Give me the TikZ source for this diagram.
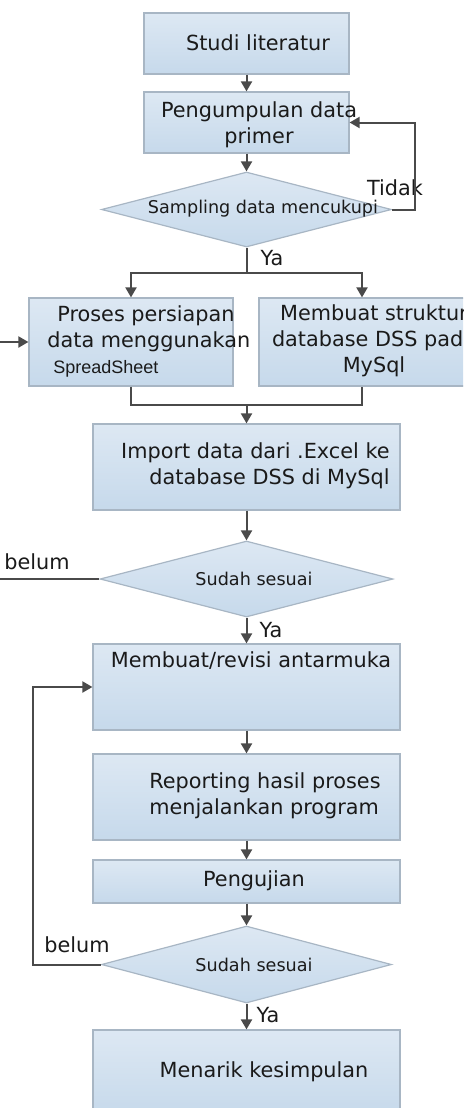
\documentclass[tikz,border=0pt]{standalone}
\usepackage{fontspec}
\setmainfont{DejaVu Sans}
\newfontfamily\sheetfont{Liberation Sans}
\usetikzlibrary{shapes.geometric,arrows.meta}
\definecolor{boxtop}{HTML}{DDE8F3}
\definecolor{boxbot}{HTML}{C6D9EB}
\definecolor{boxline}{HTML}{A8B6C4}
\definecolor{arrowgray}{HTML}{4A4A4A}
\definecolor{textgray}{HTML}{1A1A1A}
\tikzset{
  prosesbox/.style={rectangle, draw=boxline, line width=0.6pt, top color=boxtop, bottom color=boxbot, inner sep=0pt},
  keputusan/.style={diamond, draw=boxline, line width=0.6pt, top color=boxtop, bottom color=boxbot, inner sep=0pt},
  teks/.style={text=textgray, font=\fontsize{10.4}{13}\selectfont, align=center, inner sep=0pt},
  tekskecil/.style={text=textgray, font=\fontsize{8.8}{11}\selectfont, inner sep=0pt},
  panah/.style={-{Triangle[width=5.5pt,length=5pt]}, draw=arrowgray, line width=1pt},
  garis/.style={draw=arrowgray, line width=1pt},
}
\begin{document}
\begin{tikzpicture}[x=0.5pt, y=-0.5pt]
    \useasboundingbox (0,0) rectangle (463,1108);
    \clip (0,0) rectangle (463,1108);

    % Kotak dan keputusan
    \node[prosesbox, minimum width=102.5pt, minimum height=30.5pt] (studi) at (246.5,43.5) {};
    \node[prosesbox, minimum width=102.5pt, minimum height=30.5pt] (kumpul) at (246.5,122.5) {};
    \node[keputusan, minimum width=145pt, minimum height=37.5pt] (cukup) at (246.5,209.5) {};
    \node[prosesbox, minimum width=102pt, minimum height=44pt] (persiapan) at (131,342) {};
    \node[prosesbox, minimum width=103pt, minimum height=44pt] (struktur) at (362,342) {};
    \node[prosesbox, minimum width=153.5pt, minimum height=43pt] (impor) at (246.5,467) {};
    \node[keputusan, minimum width=146.5pt, minimum height=38pt] (sesuaiA) at (246.5,579) {};
    \node[prosesbox, minimum width=153.5pt, minimum height=43pt] (antarmuka) at (246.5,687) {};
    \node[prosesbox, minimum width=153.5pt, minimum height=43pt] (laporan) at (246.5,797) {};
    \node[prosesbox, minimum width=153.5pt, minimum height=21.5pt] (uji) at (246.5,881.5) {};
    \node[keputusan, minimum width=145pt, minimum height=38.5pt] (sesuaiB) at (246.5,964.5) {};
    \node[prosesbox, minimum width=153.5pt, minimum height=43pt] (simpulan) at (246.5,1073) {};

    % Teks di dalam kotak
    \node[teks] (studiT) at (258,43) {Studi literatur};
    \node[teks] (kumpulT) at (259,125) {Pengumpulan data\\primer};
    \node[tekskecil] (cukupT) at (263,209) {Sampling data mencukupi};
    \node[teks, align=left, anchor=west] (persiapanT) at (47,341) {\hspace*{5pt}Proses persiapan\\data menggunakan\\\hspace*{3pt}{\sheetfont\fontsize{9}{11}\selectfont SpreadSheet}};
    \node[teks] (strukturT) at (374,341) {Membuat struktur\\database DSS pada\\MySql};
    \node[teks, align=right, anchor=east] (imporT) at (390,466) {Import data dari .Excel ke\\database DSS di MySql};
    \node[tekskecil] (sesuaiAT) at (254,579) {Sudah sesuai};
    \node[teks] (antarmukaT) at (251,661) {Membuat/revisi antarmuka};
    \node[teks, align=left, anchor=west] (laporanT) at (149,796) {Reporting hasil proses\\menjalankan program};
    \node[teks] (ujiT) at (254,881) {Pengujian};
    \node[tekskecil] (sesuaiBT) at (254,965) {Sudah sesuai};
    \node[teks] (simpulanT) at (264,1072) {Menarik kesimpulan};

    % Label cabang
    \node[teks] (tidak) at (395,188) {Tidak};
    \node[teks] (yaA) at (272,258) {Ya};
    \node[teks] (belumA) at (37,562) {belum};
    \node[teks] (yaB) at (271,630) {Ya};
    \node[teks] (belumB) at (77,945) {belum};
    \node[teks] (yaC) at (268,1015) {Ya};

    % Panah
    \coordinate (cabang) at (246.5,273);
    \coordinate (masuk) at (0,342);
    \coordinate (gabung) at (246.5,405);
    \coordinate (keluarA) at (0,579);
    \draw[panah] (studi) -- (kumpul);
    \draw[panah] (kumpul) -- (cukup);
    \draw[panah] (cukup.east) -- ++(23,0) |- (kumpul.east);
    \draw[garis] (cukup.south) -- (cabang);
    \draw[panah] (cabang) -| (persiapan.north);
    \draw[panah] (cabang) -| (struktur.north);
    \draw[panah] (masuk) -- (persiapan.west);
    \draw[garis] (persiapan.south) |- (gabung) -| (struktur.south);
    \draw[panah] (gabung) -- (impor.north);
    \draw[panah] (impor) -- (sesuaiA);
    \draw[garis] (sesuaiA.west) -- (keluarA);
    \draw[panah] (sesuaiA) -- (antarmuka);
    \draw[panah] (antarmuka) -- (laporan);
    \draw[panah] (laporan) -- (uji);
    \draw[panah] (uji) -- (sesuaiB);
    \draw[panah] (sesuaiB.west) -- ++(-68,0) |- (antarmuka.west);
    \draw[panah] (sesuaiB) -- (simpulan);

\end{tikzpicture}
\end{document}
